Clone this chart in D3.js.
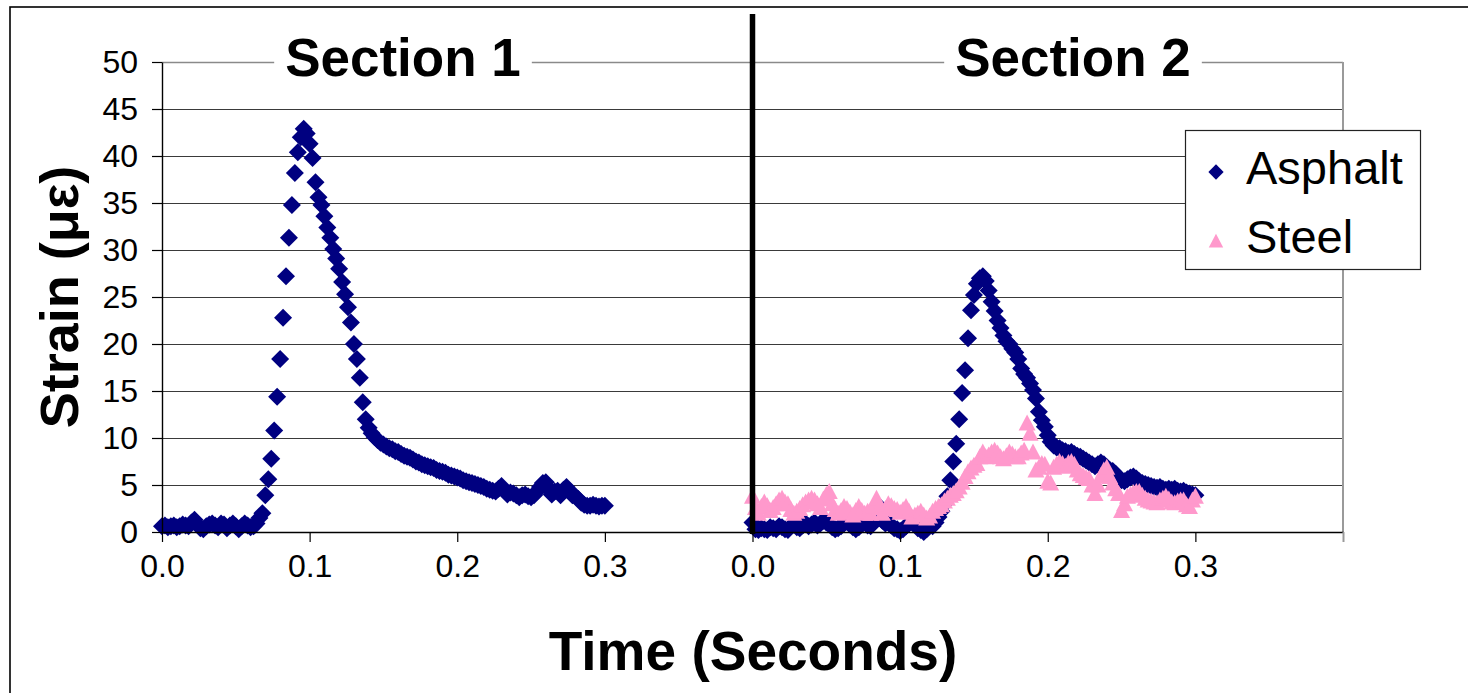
<!DOCTYPE html>
<html>
<head>
<meta charset="utf-8">
<script src="https://cdn.jsdelivr.net/npm/d3@7"></script>
<style>
  html, body { margin: 0; padding: 0; background: #fff; }
  svg { display: block; }
  text { font-family: "Liberation Sans", Arial, Helvetica, sans-serif; }
</style>
</head>
<body>
<div id="chart"></div>
<script>
// ---------------- DATA ----------------
const sampleInterval = 0.002; // seconds between samples
const sectionNames = ["Section 1", "Section 2"];
const sectionOffsets = [0, 0.4];   // where each section's time zero sits on the shared axis
const seriesNames = ["Asphalt", "Steel"];

const section1Asphalt = [
  0.6, 0.7, 0.5, 0.6, 0.7, 0.5, 0.6, 0.8, 0.7, 0.6,
  1.0, 1.3, 0.8, 0.4, 0.3, 0.6, 0.8, 0.9, 0.7, 0.5,
  0.9, 0.8, 0.4, 0.7, 0.9, 0.6, 0.3, 0.6, 0.9, 0.7,
  0.5, 0.6, 0.9, 1.5, 2.0, 3.9, 5.6, 7.8, 10.8, 14.4,
  18.4, 22.8, 27.2, 31.3, 34.8, 38.2, 40.4, 42.0, 42.9, 42.4,
  41.3, 39.8, 37.2, 35.6, 34.8, 33.6, 32.4, 31.3, 30.1, 29.1,
  28.0, 26.6, 25.3, 23.9, 22.3, 20.0, 18.4, 16.4, 13.8, 12.0,
  11.1, 10.5, 10.1, 9.8, 9.5, 9.3, 9.1, 8.9, 8.8, 8.6,
  8.5, 8.3, 8.1, 8.0, 7.9, 7.7, 7.5, 7.4, 7.2, 7.1,
  7.0, 6.9, 6.8, 6.6, 6.5, 6.4, 6.3, 6.1, 6.0, 5.9,
  5.8, 5.7, 5.5, 5.4, 5.3, 5.2, 5.1, 5.0, 4.9, 4.8,
  4.6, 4.5, 4.4, 4.3, 4.6, 4.9, 4.4, 4.0, 4.2, 4.1,
  3.9, 3.7, 3.9, 4.0, 3.8, 3.7, 3.9, 4.3, 4.8, 5.2,
  5.3, 4.6, 4.0, 4.3, 4.4, 3.9, 4.5, 4.8, 4.4, 3.9,
  3.8, 3.5, 3.1, 2.9, 2.8, 2.8, 2.9, 2.8, 2.7, 2.8, 2.8
];

const section2Asphalt = [
  1.0, 0.3, 0.2, 0.4, 0.3, 0.2, 0.5, 0.4, 0.3, 0.6,
  0.5, 0.3, 0.2, 0.6, 0.8, 0.5, 0.4, 0.7, 0.9, 0.6,
  0.8, 1.0, 0.7, 0.9, 1.2, 1.0, 0.8, 0.5, 0.3, 0.4,
  0.6, 0.9, 1.1, 0.8, 0.5, 0.3, 0.5, 0.8, 1.6, 0.7,
  0.6, 1.0, 1.3, 2.7, 1.2, 0.9, 1.0, 0.7, 0.4, 0.3,
  0.1, 0.3, 0.6, 0.9, 1.1, 0.8, 0.4, 0.2, 0.0, 0.3,
  0.7, 0.6, 1.0, 1.6, 2.2, 3.0, 3.8, 5.5, 7.5, 9.4,
  12.0, 14.8, 17.2, 20.6, 23.6, 25.2, 26.4, 27.0, 27.2, 26.7,
  25.7, 24.5, 23.5, 22.5, 21.7, 20.9, 20.3, 20.0, 19.5, 19.1,
  18.4, 17.4, 16.8, 16.4, 15.8, 15.1, 14.2, 12.8, 11.9, 11.2,
  10.3, 9.6, 9.2, 9.0, 8.9, 8.7, 8.6, 8.4, 8.5, 8.3,
  8.1, 8.0, 7.8, 7.6, 7.4, 7.2, 7.0, 7.2, 7.4, 7.2,
  6.9, 6.6, 6.5, 6.2, 5.8, 5.5, 5.4, 5.6, 5.8, 5.9,
  5.7, 5.4, 5.2, 5.1, 5.0, 4.9, 4.8, 4.7, 4.8, 4.6,
  4.5, 4.6, 4.5, 4.6, 4.4, 4.3, 4.4, 4.2, 4.1, 4.0, 3.9
];

const section2Steel = [
  3.8, 2.6, 2.0, 2.7, 3.2, 2.8, 2.3, 2.6, 3.0, 3.4,
  3.6, 3.2, 3.0, 2.4, 2.0, 2.2, 2.5, 2.9, 3.2, 3.4,
  3.6, 3.4, 3.0, 2.6, 3.5, 4.0, 4.3, 3.0, 2.4, 2.0,
  2.3, 2.7, 2.5, 2.1, 1.8, 2.3, 2.7, 2.3, 2.0, 2.2,
  2.0, 2.8, 3.6, 2.6, 2.0, 2.5, 3.0, 2.8, 2.5, 2.4,
  2.1, 2.4, 2.7, 2.2, 1.6, 1.8, 2.0, 2.2, 1.8, 1.5,
  1.7, 2.2, 2.5, 2.7, 2.9, 3.3, 3.6, 3.9, 4.1, 4.4,
  4.8, 5.3, 5.9, 6.4, 6.8, 7.1, 7.3, 8.0, 8.5, 8.0,
  8.2, 8.5, 8.7, 8.4, 8.0, 7.8, 8.1, 8.5, 8.3, 8.0,
  8.0, 8.4, 8.7, 11.6, 10.5, 8.5, 6.6, 6.9, 7.3, 7.2,
  5.4, 5.2, 6.9, 7.2, 7.5, 7.3, 7.0, 7.4, 7.5, 7.2,
  6.6, 6.2, 6.0, 5.8, 5.7, 5.0, 4.1, 5.0, 6.0, 6.6,
  6.9, 5.9, 5.2, 4.6, 4.1, 2.3, 3.0, 3.8, 4.0, 4.2,
  4.3, 4.3, 3.9, 3.6, 3.4, 3.3, 3.2, 3.1, 3.4, 3.6,
  3.8, 3.5, 3.2, 3.1, 3.3, 3.4, 3.4, 2.9, 2.7, 3.4, 3.8
];

const yTickValues = [0, 5, 10, 15, 20, 25, 30, 35, 40, 45, 50];
const xTickValues = [0, 0.1, 0.2, 0.3, 0.4, 0.5, 0.6, 0.7, 0.8];
const xTickLabels = ["0.0", "0.1", "0.2", "0.3", "0.0", "0.1", "0.2", "0.3", ""];
const xAxisTitle = "Time (Seconds)";
const yAxisTitle = "Strain (\u03bc\u03b5)";

// ---------------- CHART ----------------
const W = 1468, H = 693;
const plot = { left: 162, right: 1343, top: 62, bottom: 532 };
const NAVY = "#000080", PINK = "#FF99CC";

const svg = d3.select("#chart").append("svg").attr("width", W).attr("height", H);

const x = d3.scaleLinear().domain([0, 0.8]).range([plot.left, plot.right]);
const y = d3.scaleLinear().domain([0, 50]).range([plot.bottom, plot.top]);

// outer chart border
svg.append("rect").attr("x", 10).attr("y", 7).attr("width", W + 20).attr("height", H + 20)
  .attr("fill", "#fff").attr("stroke", "#000").attr("stroke-width", 1.6);

// grid lines
svg.append("g").selectAll("line").data(yTickValues.filter(d => d > 0)).join("line")
  .attr("x1", plot.left).attr("x2", plot.right)
  .attr("y1", d => Math.round(y(d)) + 0.5).attr("y2", d => Math.round(y(d)) + 0.5)
  .attr("stroke", d => d === 50 ? "#8a8a8a" : "#3a3a3a").attr("stroke-width", d => d === 50 ? 1.6 : 1.1);

// right border of plot area
svg.append("line").attr("x1", plot.right).attr("x2", plot.right)
  .attr("y1", plot.top).attr("y2", plot.bottom)
  .attr("stroke", "#9a9a9a").attr("stroke-width", 2);

// section titles with white backing (title centres in pixels)
const titleCentres = [403, 1073];
sectionNames.forEach((name, i) => {
  const g = svg.append("g");
  const t = g.append("text").attr("x", titleCentres[i]).attr("y", 76).attr("text-anchor", "middle")
    .attr("font-size", 53).attr("font-weight", "bold").attr("fill", "#000").text(name);
  const bb = t.node().getBBox();
  g.insert("rect", "text").attr("x", bb.x - 11).attr("y", bb.y).attr("width", bb.width + 22)
    .attr("height", bb.height).attr("fill", "#fff");
});

// markers
const diamond = "M0,-9L9,0L0,9L-9,0Z";
const triangle = "M0,-8.5L8.5,7.5L-8.5,7.5Z";

function toPoints(values, offset) {
  return values.map((v, i) => ({ t: offset + i * sampleInterval, v }));
}
const asphaltPts = toPoints(section1Asphalt, sectionOffsets[0]).concat(toPoints(section2Asphalt, sectionOffsets[1]));
const steelPts = toPoints(section2Steel, sectionOffsets[1]);

svg.append("g").selectAll("path").data(asphaltPts).join("path")
  .attr("d", diamond).attr("transform", d => `translate(${x(d.t)},${y(d.v)})`).attr("fill", NAVY);
svg.append("g").selectAll("path").data(steelPts).join("path")
  .attr("d", triangle).attr("transform", d => `translate(${x(d.t)},${y(d.v)})`).attr("fill", PINK);

// axes
const yAxis = svg.append("g").attr("transform", `translate(${plot.left},0)`)
  .call(d3.axisLeft(y).tickValues(yTickValues).tickSize(10).tickPadding(14).tickSizeOuter(0));
const xAxis = svg.append("g").attr("transform", `translate(0,${plot.bottom})`)
  .call(d3.axisBottom(x).tickValues(xTickValues).tickFormat((d, i) => xTickLabels[i])
    .tickSize(10).tickPadding(12).tickSizeOuter(0));
[yAxis, xAxis].forEach(a => {
  a.select(".domain").attr("stroke", "#000").attr("stroke-width", 1.4);
  a.selectAll(".tick line").attr("stroke", "#000").attr("stroke-width", 1.2);
  a.selectAll(".tick text").attr("font-size", 32).attr("fill", "#000")
    .attr("font-family", "'Liberation Sans', Arial, sans-serif");
});
xAxis.selectAll(".tick line").filter(d => d === 0.8).attr("stroke", "#9a9a9a").attr("stroke-width", 2);

// section divider
svg.append("line").attr("x1", x(sectionOffsets[1])).attr("x2", x(sectionOffsets[1]))
  .attr("y1", 14).attr("y2", plot.bottom + 2)
  .attr("stroke", "#000").attr("stroke-width", 5.5);

// axis titles
svg.append("text").attr("x", 753).attr("y", 670).attr("text-anchor", "middle")
  .attr("font-size", 55).attr("font-weight", "bold").text(xAxisTitle);
svg.append("text").attr("transform", "translate(78,297) rotate(-90)").attr("text-anchor", "middle")
  .attr("font-size", 54).attr("font-weight", "bold").text(yAxisTitle);

// legend
const lg = svg.append("g");
lg.append("rect").attr("x", 1185.5).attr("y", 130.5).attr("width", 235).attr("height", 139)
  .attr("fill", "#fff").attr("stroke", "#222").attr("stroke-width", 1.2);
const legendRows = [
  { name: seriesNames[0], shape: diamond, color: NAVY, cy: 172, base: 184 },
  { name: seriesNames[1], shape: triangle, color: PINK, cy: 241, base: 253 }
];
legendRows.forEach(r => {
  lg.append("path").attr("d", r.shape).attr("fill", r.color)
    .attr("transform", `translate(1216,${r.cy}) scale(0.85)`);
  lg.append("text").attr("x", 1246).attr("y", r.base).attr("font-size", 47).attr("fill", "#000").text(r.name);
});
</script>
</body>
</html>
